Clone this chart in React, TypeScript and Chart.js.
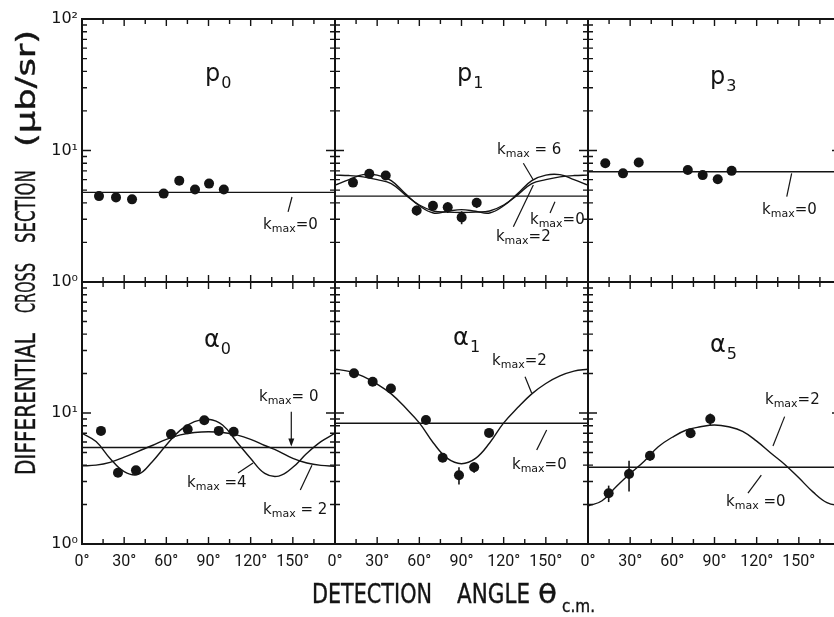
import React, { useEffect, useRef } from "react";
import { Chart, registerables } from "chart.js";

Chart.register(...registerables);

const FONT = '"DejaVu Sans", "Liberation Sans", sans-serif';
const INK = "#141414";
const CW = 850;
const CH = 617;
const Y_AXIS_W = 50;
const X_AXIS_H = 30;

// ---------- axes ----------
const X_TICKS = [0, 30, 60, 90, 120, 150];
const Y_TICK_LABELS = ["10⁰", "10¹", "10²"];
const FIT_ANGLES = [0, 10, 20, 30, 40, 50, 60, 70, 80, 90, 100, 110, 120, 130, 140, 150, 160, 170, 180];

// ---------- p0 ----------
const P0_ANGLES = [12.1, 24.2, 35.6, 58.1, 69.2, 80.4, 90.4, 100.9];
const P0_VALUES = [4.5, 4.4, 4.25, 4.7, 5.9, 5.05, 5.6, 5.05];
const P0_K0 = 4.8;

// ---------- p1 ----------
const P1_ANGLES = [12.8, 24.4, 36.1, 58.1, 69.7, 80.2, 90.1, 100.8];
const P1_VALUES = [5.7, 6.65, 6.45, 3.5, 3.8, 3.7, 3.1, 4.0];
const P1_ERRORS = [0.15, 0.2, 0.2, 0.3, 0.25, 0.35, 0.35, 0.35];
const P1_K0 = 4.5;
const P1_K2 = [6.5, 6.45, 6.3, 6.0, 5.6, 4.6, 3.85, 3.47, 3.4, 3.38, 3.4, 3.47, 3.85, 4.6, 5.6, 6.0, 6.3, 6.45, 6.5];
const P1_K6 = [5.45, 6.0, 6.55, 6.5, 5.9, 4.7, 3.8, 3.35, 3.45, 3.55, 3.45, 3.35, 3.8, 4.7, 5.9, 6.5, 6.55, 6.0, 5.45];

// ---------- p3 ----------
const P3_ANGLES = [12.3, 24.9, 36.1, 71.0, 81.6, 92.3, 102.2];
const P3_VALUES = [8.0, 6.7, 8.1, 7.1, 6.5, 6.05, 7.0];
const P3_ERRORS = [0.2, 0.2, 0.2, 0.25, 0.3, 0.45, 0.4];
const P3_K0 = 6.9;

// ---------- alpha0 ----------
const A0_ANGLES = [13.5, 25.6, 38.4, 63.3, 75.2, 87.0, 97.3, 107.9];
const A0_VALUES = [7.3, 3.5, 3.65, 6.9, 7.5, 8.8, 7.3, 7.2];
const A0_K0 = 5.45;
const A0_K2 = [3.95, 4.0, 4.2, 4.6, 5.1, 5.65, 6.3, 6.8, 7.1, 7.2, 7.1, 6.8, 6.3, 5.65, 5.1, 4.5, 4.15, 3.98, 3.92];
const A0_K4 = [7.0, 6.05, 4.5, 3.57, 3.4, 4.25, 5.7, 7.4, 8.58, 8.95, 8.1, 6.04, 4.5, 3.46, 3.3, 3.85, 4.92, 6.04, 7.0];

// ---------- alpha1 ----------
const A1_ANGLES = [13.5, 26.8, 39.8, 64.7, 76.6, 88.2, 99.0, 109.6];
const A1_VALUES = [20.1, 17.3, 15.4, 8.85, 4.55, 3.35, 3.85, 7.05];
const A1_ERRORS = [0.5, 0.5, 0.5, 0.4, 0.3, 0.5, 0.35, 0.3];
const A1_K0 = 8.35;
const A1_K2 = [21.6, 20.8, 19.0, 16.6, 14.0, 11.0, 8.4, 5.9, 4.5, 4.1, 4.5, 5.9, 8.4, 11.0, 14.0, 16.8, 19.2, 20.9, 21.6];

// ---------- alpha5 ----------
const A5_ANGLES = [14.7, 29.2, 44.1, 73.0, 87.0];
const A5_VALUES = [2.44, 3.42, 4.72, 7.0, 9.0];
const A5_ERRORS = [0.35, 0.9, 0.4, 0.3, 0.9];
const A5_K0 = 3.85;
const A5_K2 = [1.95, 2.14, 2.74, 3.45, 4.29, 5.53, 6.53, 7.42, 7.85, 8.1, 7.85, 7.25, 6.1, 4.95, 4.05, 3.2, 2.5, 2.07, 1.95];

// ---------- layout of the six panels (pixel rectangles) ----------
const COLS = [[82, 335], [335, 588], [588, 841]];
const ROWS = [[19, 282], [282, 544]];

type Note = { at: [number, number]; tail: string; from: [number, number]; to: [number, number]; arrow?: boolean };
type PanelCfg = {
  col: number; row: number; name: string; sub: string; nameAt: [number, number];
  ang: number[]; val: number[]; err: number[] | null; k0: number; fits: number[][];
  yTicks: number[]; showX: boolean; notes: Note[];
};

const PANELS: PanelCfg[] = [
  { col: 0, row: 0, name: "p", sub: "0", nameAt: [87.5, 33.8], ang: P0_ANGLES, val: P0_VALUES, err: null, k0: P0_K0, fits: [],
    yTicks: [1, 10, 100], showX: false,
    notes: [{ at: [128.8, 2.71], tail: "=0", from: [146.6, 3.41], to: [149.4, 4.43] }] },
  { col: 1, row: 0, name: "p", sub: "1", nameAt: [86.8, 33.8], ang: P1_ANGLES, val: P1_VALUES, err: P1_ERRORS, k0: P1_K0, fits: [P1_K2, P1_K6],
    yTicks: [], showX: false,
    notes: [
      { at: [115.3, 10.1], tail: " = 6", from: [134, 8.0], to: [141.1, 5.97] },
      { at: [138.7, 2.96], tail: "=0", from: [153, 3.35], to: [156.5, 4.08] },
      { at: [114.5, 2.2], tail: "=2", from: [126.9, 2.63], to: [141.1, 5.47] },
    ] },
  { col: 2, row: 0, name: "p", sub: "3", nameAt: [86.8, 32.0], ang: P3_ANGLES, val: P3_VALUES, err: P3_ERRORS, k0: P3_K0, fits: [],
    yTicks: [], showX: false,
    notes: [{ at: [123.8, 3.53], tail: "=0", from: [141.4, 4.46], to: [144.9, 6.71] }] },
  { col: 0, row: 1, name: "α", sub: "0", nameAt: [86.8, 31.9], ang: A0_ANGLES, val: A0_VALUES, err: null, k0: A0_K0, fits: [A0_K2, A0_K4],
    yTicks: [1, 10], showX: true,
    notes: [
      { at: [125.9, 13.2], tail: "= 0", from: [148.9, 10.2], to: [148.9, 5.75], arrow: true },
      { at: [74.7, 2.92], tail: " =4", from: [111, 3.48], to: [121.7, 4.15] },
      { at: [128.8, 1.82], tail: " = 2", from: [155.3, 2.58], to: [163.6, 4.0] },
    ] },
  { col: 1, row: 1, name: "α", sub: "1", nameAt: [84, 33.0], ang: A1_ANGLES, val: A1_VALUES, err: A1_ERRORS, k0: A1_K0, fits: [A1_K2],
    yTicks: [], showX: true,
    notes: [
      { at: [111.7, 24.9], tail: "=2", from: [135.2, 18.9], to: [139.9, 14.2] },
      { at: [125.9, 4.0], tail: "=0", from: [143.5, 5.21], to: [150.6, 7.42] },
    ] },
  { col: 2, row: 1, name: "α", sub: "5", nameAt: [86.8, 29.2], ang: A5_ANGLES, val: A5_VALUES, err: A5_ERRORS, k0: A5_K0, fits: [A5_K2],
    yTicks: [], showX: true,
    notes: [
      { at: [125.9, 12.6], tail: "=2", from: [139.9, 9.38], to: [131.6, 5.6] },
      { at: [98.2, 2.09], tail: " =0", from: [113.8, 2.45], to: [123.3, 3.36] },
    ] },
];

function makeDecor(cfg: PanelCfg) {
  return {
    id: "decor",
    afterDatasetsDraw(chart: any) {
      const { ctx, scales } = chart;
      const x = scales.x, y = scales.y;
      if (!cfg.err) return;
      ctx.save();
      ctx.strokeStyle = INK;
      ctx.lineWidth = 1.6;
      cfg.err.forEach((e, i) => {
        const px = x.getPixelForValue(cfg.ang[i]);
        ctx.beginPath();
        ctx.moveTo(px, y.getPixelForValue(cfg.val[i] + e));
        ctx.lineTo(px, y.getPixelForValue(cfg.val[i] - e));
        ctx.stroke();
      });
      ctx.restore();
    },
    afterDraw(chart: any) {
      const { ctx, chartArea: ca, scales } = chart;
      const x = scales.x, y = scales.y;
      ctx.save();
      ctx.strokeStyle = INK;
      ctx.fillStyle = INK;
      // frame
      ctx.lineWidth = 2;
      ctx.strokeRect(ca.left, ca.top, ca.right - ca.left, ca.bottom - ca.top);
      // inward tick marks
      ctx.lineWidth = 1.4;
      ctx.beginPath();
      for (let a = 15; a < 180; a += 15) {
        const px = x.getPixelForValue(a);
        const len = a % 30 === 0 ? 7 : 5;
        ctx.moveTo(px, ca.top); ctx.lineTo(px, ca.top + len);
        ctx.moveTo(px, ca.bottom); ctx.lineTo(px, ca.bottom - len);
      }
      for (const dec of [1, 10]) {
        for (let m = 1; m <= 9; m++) {
          const v = m * dec;
          if (v === 1) continue;
          const py = y.getPixelForValue(v);
          const len = v === 10 ? 9 : 5;
          ctx.moveTo(ca.left, py); ctx.lineTo(ca.left + len, py);
          ctx.moveTo(ca.right, py); ctx.lineTo(ca.right - len, py);
        }
      }
      ctx.stroke();
      // panel name with subscript
      ctx.textBaseline = "alphabetic";
      ctx.textAlign = "left";
      const nx = x.getPixelForValue(cfg.nameAt[0]);
      const ny = y.getPixelForValue(cfg.nameAt[1]);
      ctx.font = `24px ${FONT}`;
      ctx.fillText(cfg.name, nx, ny);
      const nw = ctx.measureText(cfg.name).width;
      ctx.font = `16px ${FONT}`;
      ctx.fillText(cfg.sub, nx + nw + 1, ny + 7);
      // k_max annotations with leader lines
      ctx.lineWidth = 1.2;
      cfg.notes.forEach((n) => {
        const tx = x.getPixelForValue(n.at[0]);
        const ty = y.getPixelForValue(n.at[1]);
        ctx.textBaseline = "middle";
        ctx.font = `15px ${FONT}`;
        ctx.fillText("k", tx, ty);
        let cx = tx + ctx.measureText("k").width;
        ctx.font = `11px ${FONT}`;
        ctx.fillText("max", cx, ty + 4);
        cx += ctx.measureText("max").width;
        ctx.font = `15px ${FONT}`;
        ctx.fillText(n.tail, cx, ty);
        const x1 = x.getPixelForValue(n.from[0]), y1 = y.getPixelForValue(n.from[1]);
        const x2 = x.getPixelForValue(n.to[0]), y2 = y.getPixelForValue(n.to[1]);
        ctx.beginPath();
        ctx.moveTo(x1, y1);
        ctx.lineTo(x2, y2);
        ctx.stroke();
        if (n.arrow) {
          ctx.beginPath();
          ctx.moveTo(x2, y2 + 2);
          ctx.lineTo(x2 - 3, y2 - 6);
          ctx.lineTo(x2 + 3, y2 - 6);
          ctx.closePath();
          ctx.fill();
        }
      });
      ctx.restore();
    },
  };
}

function buildDatasets(cfg: PanelCfg) {
  const ds: any[] = [];
  ds.push({
    label: "data",
    data: cfg.ang.map((a, i) => ({ x: a, y: cfg.val[i] })),
    showLine: false,
    pointRadius: 5,
    pointBackgroundColor: INK,
    pointBorderWidth: 0,
  });
  ds.push({
    label: "kmax=0",
    data: [{ x: 0, y: cfg.k0 }, { x: 180, y: cfg.k0 }],
    showLine: true,
    pointRadius: 0,
    borderColor: INK,
    borderWidth: 1.4,
  });
  cfg.fits.forEach((f, k) => {
    ds.push({
      label: `fit${k}`,
      data: FIT_ANGLES.map((a, i) => ({ x: a, y: f[i] })),
      showLine: true,
      pointRadius: 0,
      borderColor: INK,
      borderWidth: 1.4,
      tension: 0.4,
    });
  });
  return ds;
}

function fixX(s: any) {
  s.height = X_AXIS_H;
  s.paddingLeft = 0; s.paddingRight = 0; s.paddingTop = 0; s.paddingBottom = 0;
}
function fixY(s: any) {
  s.width = Y_AXIS_W;
  s.paddingLeft = 0; s.paddingRight = 0; s.paddingTop = 0; s.paddingBottom = 0;
}

function Panel({ cfg }: { cfg: PanelCfg }) {
  const ref = useRef<HTMLCanvasElement>(null);
  useEffect(() => {
    const [L, R] = COLS[cfg.col];
    const [T, B] = ROWS[cfg.row];
    const chart = new Chart(ref.current as HTMLCanvasElement, {
      type: "scatter",
      data: { datasets: buildDatasets(cfg) },
      options: {
        responsive: false,
        animation: false,
        devicePixelRatio: 1,
        events: [],
        layout: { padding: { left: L - Y_AXIS_W, top: T, right: CW - R, bottom: CH - B - X_AXIS_H } },
        plugins: { legend: { display: false }, tooltip: { enabled: false } },
        scales: {
          x: {
            type: "linear",
            min: 0,
            max: 180,
            grid: { display: false, drawTicks: false },
            border: { display: false },
            afterFit: fixX,
            afterBuildTicks: (s: any) => { s.ticks = X_TICKS.map((v) => ({ value: v })); },
            ticks: {
              display: cfg.showX,
              autoSkip: false,
              maxRotation: 0,
              minRotation: 0,
              padding: 8,
              color: INK,
              font: { family: "Roboto, " + FONT, size: 16 },
              callback: (v: any) => `${v}°`,
            },
          },
          y: {
            type: "logarithmic",
            min: 1,
            max: 100,
            grid: { display: false, drawTicks: false },
            border: { display: false },
            afterFit: fixY,
            afterBuildTicks: (s: any) => { s.ticks = cfg.yTicks.map((v) => ({ value: v })); },
            ticks: {
              display: cfg.yTicks.length > 0,
              autoSkip: false,
              padding: 4,
              color: INK,
              font: { family: FONT, size: 16 },
              callback: (v: any) => Y_TICK_LABELS[Math.round(Math.log10(Number(v)))],
            },
          },
        },
      } as any,
      plugins: [makeDecor(cfg) as any],
    });
    return () => chart.destroy();
  }, [cfg]);
  return <canvas ref={ref} width={CW} height={CH} style={{ position: "absolute", left: 0, top: 0 }} />;
}

export default function App() {
  return (
    <div style={{ position: "fixed", left: 0, top: 0, width: 834, height: 617, overflow: "hidden", background: "#fff" }}>
      {PANELS.map((p, i) => (
        <Panel key={i} cfg={p} />
      ))}
      <svg width={834} height={617} style={{ position: "absolute", left: 0, top: 0 }}>
        <g fontFamily={FONT} fill={INK} stroke={INK} strokeWidth={0.4} fontSize={27}>
          <text x={312} y={603} textLength={120} lengthAdjust="spacingAndGlyphs">DETECTION</text>
          <text x={457} y={603} textLength={73} lengthAdjust="spacingAndGlyphs">ANGLE</text>
          <text x={538} y={603} textLength={19} lengthAdjust="spacingAndGlyphs">θ</text>
          <text x={562} y={612} fontSize={18} textLength={33} lengthAdjust="spacingAndGlyphs">c.m.</text>
          <g transform="rotate(-90)">
            <text x={-475} y={35} textLength={142} lengthAdjust="spacingAndGlyphs">DIFFERENTIAL</text>
            <text x={-313} y={35} textLength={50} lengthAdjust="spacingAndGlyphs">CROSS</text>
            <text x={-243} y={35} textLength={73} lengthAdjust="spacingAndGlyphs">SECTION</text>
            <text x={-147} y={35} textLength={117} lengthAdjust="spacingAndGlyphs">(μb/sr)</text>
          </g>
        </g>
      </svg>
    </div>
  );
}
